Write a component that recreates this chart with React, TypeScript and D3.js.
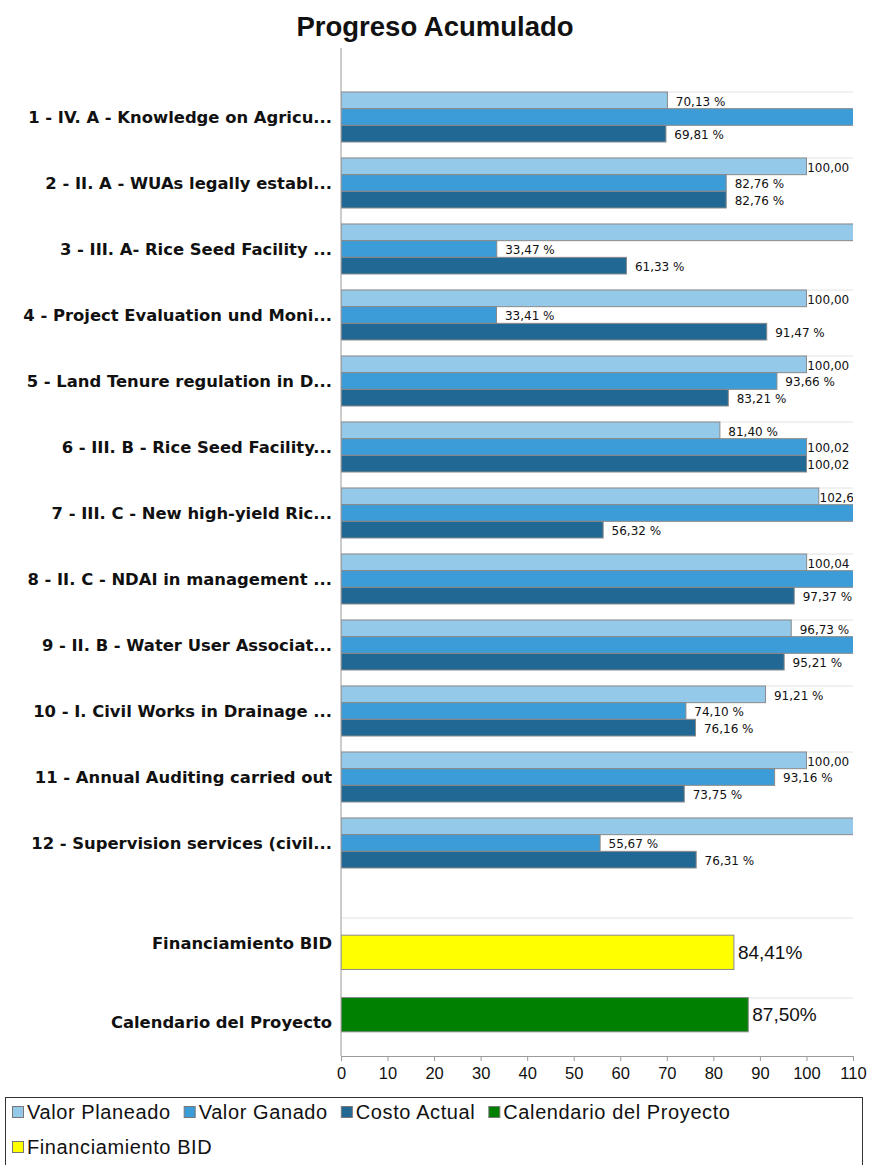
import React, { useEffect, useRef } from "react";
import * as d3 from "d3";

const categories = [
	"1 - IV. A - Knowledge on Agricu...",
	"2 - II. A - WUAs legally establ...",
	"3 - III. A- Rice Seed Facility ...",
	"4 - Project Evaluation und Moni...",
	"5 - Land Tenure regulation in D...",
	"6 - III. B - Rice Seed Facility...",
	"7 - III. C - New high-yield Ric...",
	"8 - II. C - NDAI in management ...",
	"9 - II. B - Water User Associat...",
	"10 - I. Civil Works in Drainage ...",
	"11 - Annual Auditing carried out",
	"12 - Supervision services (civil...",
];
const seriesNames = ["Valor Planeado", "Valor Ganado", "Costo Actual"];
// bars past 110 are cut by the chart, their values are estimates
const valorPlaneado = [70.13, 100.0, 120.0, 100.0, 100.0, 81.4, 102.65, 100.04, 96.73, 91.21, 100.0, 118.0];
const valorGanado = [130.0, 82.76, 33.47, 33.41, 93.66, 100.02, 135.0, 115.0, 112.0, 74.1, 93.16, 55.67];
const costoActual = [69.81, 82.76, 61.33, 91.47, 83.21, 100.02, 56.32, 97.37, 95.21, 76.16, 73.75, 76.31];

const summaryNames = ["Financiamiento BID", "Calendario del Proyecto"];
const summaryValues = [84.41, 87.5];

const xTicks = [0, 10, 20, 30, 40, 50, 60, 70, 80, 90, 100, 110];
const legendNames = ["Valor Planeado", "Valor Ganado", "Costo Actual", "Calendario del Proyecto", "Financiamiento BID"];

const seriesColors = ["#94c9ea", "#3c9cd8", "#216894"];
const summaryColors = ["#ffff00", "#008000"];
const legendColors = ["#94c9ea", "#3c9cd8", "#216894", "#008000", "#ffff00"];

const fmt = (v: number) => v.toFixed(2).replace(".", ",");

export default function App() {
	const ref = useRef<SVGSVGElement>(null);

	useEffect(() => {
		const width = 871;
		const height = 1165;
		const left = 341;
		const right = 853;
		const axisY = 1056;

		const svg = d3.select(ref.current);
		svg.selectAll("*").remove();
		svg.attr("width", width).attr("height", height);

		svg
			.append("defs")
			.append("clipPath")
			.attr("id", "plot-clip")
			.append("rect")
			.attr("x", left)
			.attr("y", 0)
			.attr("width", right - left)
			.attr("height", height);

		const x = d3.scaleLinear().domain([0, 110]).range([left, right]);

		// title
		svg
			.append("text")
			.attr("x", 435)
			.attr("y", 36)
			.attr("text-anchor", "middle")
			.attr("font-family", "Liberation Sans, Arial, sans-serif")
			.attr("font-weight", "bold")
			.attr("font-size", 27.5)
			.attr("fill", "#111")
			.text("Progreso Acumulado");

		// top chart
		const rows = categories.map((c, i) => ({
			name: c,
			values: [valorPlaneado[i], valorGanado[i], costoActual[i]],
		}));

		const y = d3.scaleBand().domain(categories).range([92, 868]).paddingInner(16 / 66).paddingOuter(0);
		const yInner = d3.scaleBand().domain(seriesNames).range([0, y.bandwidth()]);

		svg
			.append("g")
			.selectAll("line")
			.data(categories)
			.join("line")
			.attr("x1", left)
			.attr("x2", right)
			.attr("y1", (d) => y(d))
			.attr("y2", (d) => y(d))
			.attr("stroke", "#e2e2e2");

		const plot = svg.append("g").attr("clip-path", "url(#plot-clip)");

		const groups = plot
			.selectAll("g.grp")
			.data(rows)
			.join("g")
			.attr("class", "grp")
			.attr("transform", (d) => `translate(0,${y(d.name)})`);

		groups
			.selectAll("rect")
			.data((d) => d.values.map((v, j) => ({ v, s: seriesNames[j], j })))
			.join("rect")
			.attr("x", x(0))
			.attr("y", (d) => yInner(d.s))
			.attr("width", (d) => x(Math.min(d.v, 111)) - x(0))
			.attr("height", yInner.bandwidth())
			.attr("fill", (d) => seriesColors[d.j])
			.attr("stroke", "#8a8a8a")
			.attr("stroke-width", 1);

		// labels of bars running off the axis are not visible in the chart
		groups
			.selectAll("text")
			.data((d) => d.values.map((v, j) => ({ v, s: seriesNames[j] })).filter((e) => e.v <= 110))
			.join("text")
			.attr("x", (d) => x(d.v) + 58)
			.attr("y", (d) => yInner(d.s) + yInner.bandwidth() / 2 + 1)
			.attr("dy", "0.35em")
			.attr("text-anchor", "end")
			.attr("font-family", "DejaVu Sans, sans-serif")
			.attr("font-size", 12)
			.attr("fill", "#111")
			.text((d) => `${fmt(d.v)} %`);

		svg
			.append("g")
			.selectAll("text")
			.data(categories)
			.join("text")
			.attr("x", 332)
			.attr("y", (d) => y(d) + y.bandwidth() / 2)
			.attr("dy", "0.35em")
			.attr("text-anchor", "end")
			.attr("font-family", "DejaVu Sans, sans-serif")
			.attr("font-weight", "bold")
			.attr("font-size", 16.4)
			.attr("fill", "#111")
			.text((d) => d);

		// lower chart
		const yGrid = d3.scaleBand().domain(summaryNames).range([918, 1078]);
		const yLabel = d3.scaleBand().domain(summaryNames).range([904, 1062]);
		const yBar = d3.scaleBand().domain(summaryNames).range([904, 1063]).paddingInner(0.45).paddingOuter(0.5);

		svg
			.append("g")
			.selectAll("line")
			.data(summaryNames)
			.join("line")
			.attr("x1", left)
			.attr("x2", right)
			.attr("y1", (d) => yGrid(d))
			.attr("y2", (d) => yGrid(d))
			.attr("stroke", "#e2e2e2");

		const low = svg.append("g").attr("clip-path", "url(#plot-clip)");
		low
			.selectAll("rect")
			.data(summaryNames)
			.join("rect")
			.attr("x", x(0))
			.attr("y", (d) => yBar(d))
			.attr("width", (d, i) => x(summaryValues[i]) - x(0))
			.attr("height", yBar.bandwidth())
			.attr("fill", (d, i) => summaryColors[i])
			.attr("stroke", "#8a8a8a");

		low
			.selectAll("text")
			.data(summaryNames)
			.join("text")
			.attr("x", (d, i) => x(summaryValues[i]) + 4)
			.attr("y", (d) => yBar(d) + yBar.bandwidth() / 2)
			.attr("dy", "0.35em")
			.attr("font-family", "Liberation Sans, Arial, sans-serif")
			.attr("font-size", 19)
			.attr("fill", "#111")
			.text((d, i) => `${fmt(summaryValues[i])}%`);

		svg
			.append("g")
			.selectAll("text")
			.data(summaryNames)
			.join("text")
			.attr("x", 332)
			.attr("y", (d) => yLabel(d) + yLabel.bandwidth() / 2)
			.attr("dy", "0.35em")
			.attr("text-anchor", "end")
			.attr("font-family", "DejaVu Sans, sans-serif")
			.attr("font-weight", "bold")
			.attr("font-size", 16.4)
			.attr("fill", "#111")
			.text((d) => d);

		// axes
		svg.append("line").attr("x1", left).attr("x2", left).attr("y1", 48).attr("y2", axisY).attr("stroke", "#9a9a9a");

		const xAxis = svg
			.append("g")
			.attr("transform", `translate(0,${axisY})`)
			.call(d3.axisBottom(x).tickValues(xTicks).tickSize(5).tickPadding(6).tickFormat(d3.format("d")));
		xAxis.select(".domain").attr("stroke", "#9a9a9a");
		xAxis.selectAll(".tick line").attr("stroke", "#9a9a9a");
		xAxis
			.selectAll(".tick text")
			.attr("font-family", "Liberation Sans, Arial, sans-serif")
			.attr("font-size", 16.5)
			.attr("fill", "#111");

		// legend
		svg
			.append("rect")
			.attr("x", 5.5)
			.attr("y", 1097.5)
			.attr("width", 857)
			.attr("height", 100)
			.attr("fill", "#fff")
			.attr("stroke", "#333");

		const legend = svg.append("g");
		let lx = 12;
		let ly = 1112;
		legendNames.forEach((name, i) => {
			const item = legend.append("g");
			const t = item
				.append("text")
				.attr("x", 15)
				.attr("y", 0)
				.attr("dy", "0.35em")
				.attr("font-family", "Liberation Sans, Arial, sans-serif")
				.attr("font-size", 20)
				.attr("letter-spacing", 0.6)
				.attr("fill", "#111")
				.text(name);
			const w = (t.node() as SVGTextElement).getComputedTextLength();
			if (lx + 15 + w > 855) {
				lx = 12;
				ly += 35;
			}
			item.attr("transform", `translate(${lx},${ly})`);
			item
				.append("rect")
				.attr("x", 0.5)
				.attr("y", -5.5)
				.attr("width", 11)
				.attr("height", 11)
				.attr("fill", legendColors[i])
				.attr("stroke", "#777");
			lx += 15 + w + 13;
		});
	}, []);

	return <svg ref={ref} style={{ position: "absolute", left: 0, top: 0 }} />;
}
